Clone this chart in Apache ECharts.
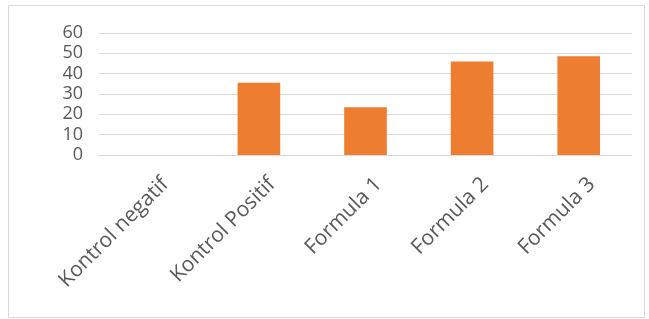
<!DOCTYPE html>
<html>
<head>
<meta charset="utf-8">
<script src="https://cdn.jsdelivr.net/npm/echarts@6/dist/echarts.min.js"></script>
<style>
  html, body { margin: 0; padding: 0; background: #fff; }
  #chart { width: 649px; height: 319px; }
</style>
</head>
<body>
<div id="chart"></div>
<script>
const categories = ['Kontrol negatif', 'Kontrol Positif', 'Formula 1', 'Formula 2', 'Formula 3']
const values = [0, 35.5, 23.5, 46, 48.6]
const yTicks = [0, 10, 20, 30, 40, 50, 60]

const chart = echarts.init(document.getElementById('chart'))

const option = {
  animation: false,
  graphic: [{
    type: 'rect',
    shape: { x: 8.5, y: 5.5, width: 636, height: 312 },
    style: { fill: 'none', stroke: '#d9d9d9', lineWidth: 1 }
  }],
  grid: {
    left: 99,
    right: 17,
    top: 33,
    bottom: 164
  },
  xAxis: {
    type: 'category',
    data: categories,
    axisLine: { show: true, lineStyle: { color: '#d9d9d9', width: 1 } },
    axisTick: { show: false },
    axisLabel: {
      rotate: 45,
      margin: 13,
      fontFamily: 'Open Sans',
      fontSize: 21,
      color: '#595959',
      interval: 0,
      verticalAlign: 'top',
      padding: [8, 0, 0, 0]
    }
  },
  yAxis: {
    type: 'value',
    min: yTicks[0],
    max: yTicks[yTicks.length - 1],
    interval: 10,
    axisLine: { show: false },
    axisTick: { show: false },
    splitLine: { lineStyle: { color: '#d9d9d9', width: 1 } },
    axisLabel: {
      margin: 16,
      fontFamily: 'Open Sans',
      fontSize: 18,
      color: '#595959'
    }
  },
  series: [{
    type: 'bar',
    data: values,
    barWidth: '40%',
    itemStyle: { color: '#ed7d31' }
  }]
}

chart.setOption(option)
</script>
</body>
</html>
